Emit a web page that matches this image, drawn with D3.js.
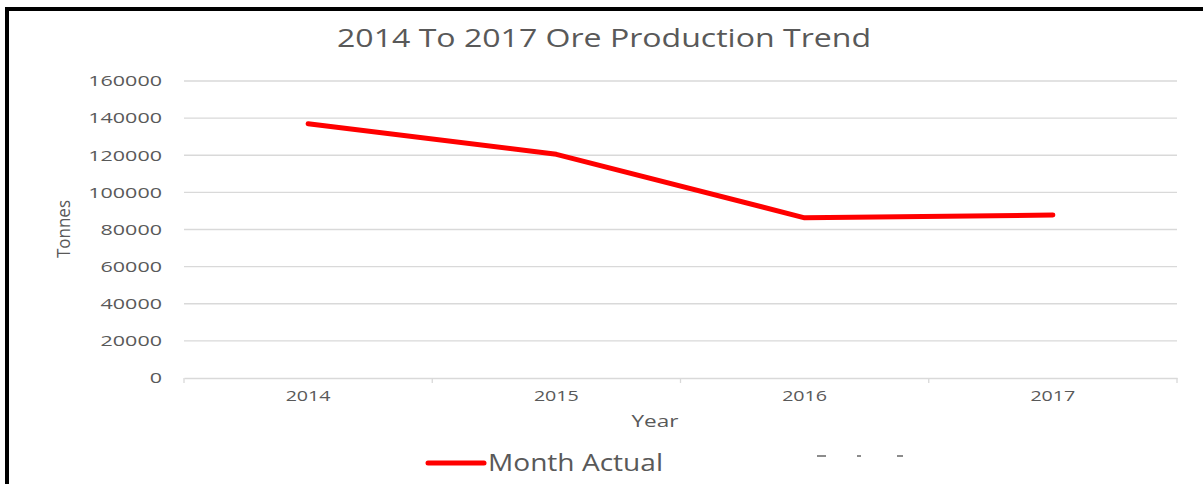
<!DOCTYPE html>
<html>
<head>
<meta charset="utf-8">
<script src="https://cdn.jsdelivr.net/npm/d3@7"></script>
<style>
  body { margin: 0; background: #fff; }
  svg text { font-family: "Open Sans", "Liberation Sans", sans-serif; fill: #595959; }
</style>
</head>
<body>
<div id="chart"></div>
<script>
var years = ['2014', '2015', '2016', '2017'];
var monthActual = [137000, 120500, 86300, 87800];
var yTicks = [0, 20000, 40000, 60000, 80000, 100000, 120000, 140000, 160000];

var W = 1203, H = 484;
var m = {l: 184, r: 26, t: 81, b: 106};

var svg = d3.select("#chart")
    .append("svg")
    .attr("width", W)
    .attr("height", H);

// black frame (only top and left visible in the crop)
svg.append("rect").attr("x", 5).attr("y", 7).attr("width", 4).attr("height", H - 7).attr("fill", "#000");
svg.append("rect").attr("x", 5).attr("y", 7).attr("width", W - 5).attr("height", 4).attr("fill", "#000");

var x = d3.scaleBand()
    .domain(years)
    .range([m.l, W - m.r]);

var y = d3.scaleLinear()
    .domain([0, 160000])
    .range([H - m.b, m.t]);

// gridlines
svg.append("g")
    .selectAll("line")
    .data(yTicks.filter(d => d > 0))
    .enter()
    .append("line")
    .attr("x1", m.l)
    .attr("x2", W - m.r)
    .attr("y1", d => y(d))
    .attr("y2", d => y(d))
    .attr("stroke", "#d9d9d9")
    .attr("stroke-width", 1.3);

// y axis labels
var yAxis = svg.append("g")
    .attr("transform", "translate(" + m.l + ",0)")
    .call(d3.axisLeft(y).tickValues(yTicks).tickSize(0).tickPadding(22).tickFormat(d => d));
yAxis.select(".domain").remove();
yAxis.selectAll(".tick text")
    .attr("font-size", "15px")
    .attr("fill", "#595959")
    .style("fill", "#595959")
    .attr("textLength", d => String(d).length * 12.3)
    .attr("lengthAdjust", "spacingAndGlyphs");

// x axis
var xAxis = svg.append("g")
    .attr("transform", "translate(0," + y(0) + ")")
    .call(d3.axisBottom(x).tickSize(0).tickPadding(13));
xAxis.select(".domain").attr("stroke", "#d9d9d9").attr("stroke-width", 1.3);
xAxis.selectAll(".tick text")
    .attr("font-size", "14px")
    .style("fill", "#595959")
    .attr("textLength", 45)
    .attr("lengthAdjust", "spacingAndGlyphs");

// category boundary ticks
svg.append("g")
    .selectAll("line")
    .data(years.concat(["end"]))
    .enter()
    .append("line")
    .attr("x1", (d, i) => i < years.length ? x(d) : x.range()[1])
    .attr("x2", (d, i) => i < years.length ? x(d) : x.range()[1])
    .attr("y1", y(0))
    .attr("y2", y(0) + 5)
    .attr("stroke", "#d9d9d9")
    .attr("stroke-width", 1.3);

// the line
var line = d3.line()
    .x((d, i) => x(years[i]) + x.bandwidth() / 2)
    .y(d => y(d));

svg.append("path")
    .datum(monthActual)
    .attr("d", line)
    .attr("fill", "none")
    .attr("stroke", "#ff0000")
    .attr("stroke-width", 5)
    .attr("stroke-linejoin", "round")
    .attr("stroke-linecap", "round");

// title
svg.append("text")
    .attr("x", 604)
    .attr("y", 47)
    .attr("text-anchor", "middle")
    .attr("font-size", "25px")
    .attr("textLength", 534)
    .attr("lengthAdjust", "spacingAndGlyphs")
    .text("2014 To 2017 Ore Production Trend");

// axis titles
svg.append("text")
    .attr("x", 655)
    .attr("y", 427)
    .attr("text-anchor", "middle")
    .attr("font-size", "17px")
    .attr("textLength", 47)
    .attr("lengthAdjust", "spacingAndGlyphs")
    .text("Year");

svg.append("text")
    .attr("transform", "translate(70,229) rotate(-90)")
    .attr("text-anchor", "middle")
    .attr("font-size", "18px")
    .attr("textLength", 58)
    .attr("lengthAdjust", "spacingAndGlyphs")
    .text("Tonnes");

// legend
var legend = svg.append("g");
legend.append("line")
    .attr("x1", 428).attr("x2", 484)
    .attr("y1", 463).attr("y2", 463)
    .attr("stroke", "#ff0000")
    .attr("stroke-width", 5)
    .attr("stroke-linecap", "round");
legend.append("text")
    .attr("x", 488)
    .attr("y", 471)
    .attr("font-size", "24px")
    .attr("textLength", 175)
    .attr("lengthAdjust", "spacingAndGlyphs")
    .text("Month Actual");

// faint leftover marks of a clipped legend entry
[[817, 9], [857, 4], [897, 6]].forEach(d => {
    legend.append("line")
        .attr("x1", d[0]).attr("x2", d[0] + d[1])
        .attr("y1", 456).attr("y2", 456)
        .attr("stroke", "#8c8c8c")
        .attr("stroke-width", 2);
});
</script>
</body>
</html>
